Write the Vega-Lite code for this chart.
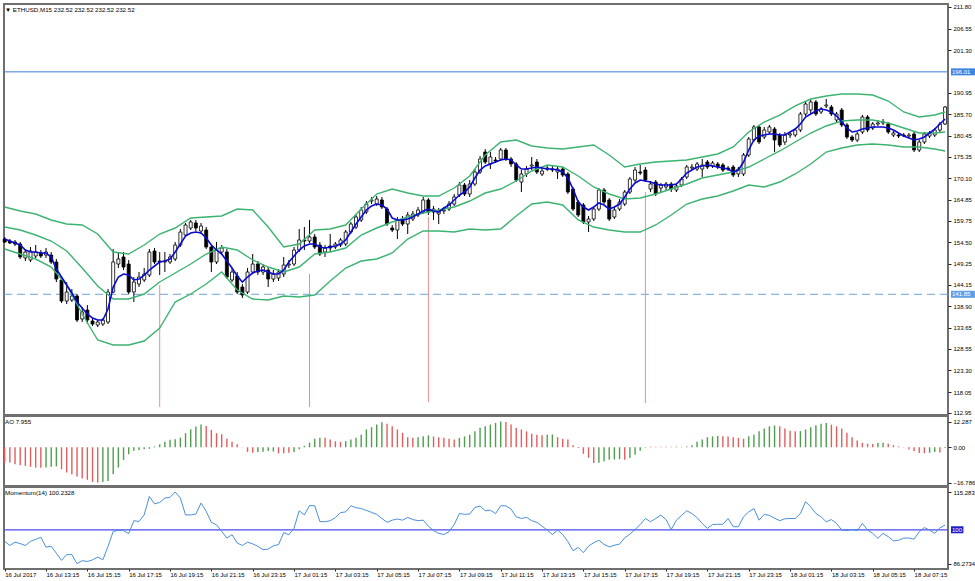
{
  "$schema": "https://vega.github.io/schema/vega-lite/v6.json",
  "background": "white",
  "padding": {"left": 0, "top": 2, "right": 0, "bottom": 0},
  "spacing": 1,
  "bounds": "flush",
  "config": {
    "view": {"stroke": "#6f6f6f", "strokeWidth": 2},
    "font": "Liberation Sans",
    "axis": {"labelFont": "Liberation Sans", "labelFontSize": 6, "labelColor": "#000000", "tickColor": "#222222", "tickSize": 3, "domain": false, "grid": false, "labelPadding": 2, "labelOverlap": false}
  },
  "datasets": {
    "bars": [
      {"t":"2017-07-16 11:15","o":155.31,"h":155.80,"l":154.34,"c":154.58,"ma":155.31,"ao":-7.2,"d":"d","mo":95.31},
      {"t":"2017-07-16 11:30","o":154.82,"h":155.31,"l":154.09,"c":154.34,"ma":154.82,"ao":-7.2,"d":"d","mo":93.64},
      {"t":"2017-07-16 11:45","o":154.58,"h":155.07,"l":153.61,"c":154.09,"ma":154.34,"ao":-8.1,"d":"d","mo":94.98},
      {"t":"2017-07-16 12:00","o":154.09,"h":154.58,"l":150.44,"c":150.93,"ma":153.85,"ao":-8.6,"d":"d","mo":94.42},
      {"t":"2017-07-16 12:15","o":150.68,"h":152.87,"l":149.95,"c":152.14,"ma":152.63,"ao":-8.9,"d":"d","mo":93.64},
      {"t":"2017-07-16 12:30","o":150.20,"h":153.36,"l":149.71,"c":152.39,"ma":152.14,"ao":-9.3,"d":"d","mo":95.31},
      {"t":"2017-07-16 12:45","o":151.17,"h":153.85,"l":150.68,"c":152.14,"ma":152.14,"ao":-9.7,"d":"d","mo":96.10},
      {"t":"2017-07-16 13:00","o":151.90,"h":152.63,"l":150.68,"c":151.17,"ma":151.90,"ao":-9.8,"d":"d","mo":96.99},
      {"t":"2017-07-16 13:15","o":151.41,"h":153.12,"l":150.68,"c":152.14,"ma":151.90,"ao":-9.6,"d":"u","mo":92.97},
      {"t":"2017-07-16 13:30","o":151.41,"h":152.14,"l":149.22,"c":149.71,"ma":150.93,"ao":-9.3,"d":"u","mo":93.31},
      {"t":"2017-07-16 13:45","o":149.71,"h":150.44,"l":144.84,"c":145.57,"ma":148.00,"ao":-9.1,"d":"u","mo":90.52},
      {"t":"2017-07-16 14:00","o":145.33,"h":145.81,"l":139.73,"c":140.21,"ma":146.06,"ao":-10.5,"d":"d","mo":87.62},
      {"t":"2017-07-16 14:15","o":140.21,"h":144.84,"l":139.48,"c":142.40,"ma":144.11,"ao":-12.0,"d":"d","mo":89.96},
      {"t":"2017-07-16 14:30","o":140.46,"h":143.13,"l":139.97,"c":141.43,"ma":142.16,"ao":-12.8,"d":"d","mo":89.96},
      {"t":"2017-07-16 14:45","o":141.43,"h":141.92,"l":135.10,"c":135.59,"ma":139.97,"ao":-13.9,"d":"d","mo":86.2734},
      {"t":"2017-07-16 15:00","o":135.83,"h":138.75,"l":135.10,"c":137.53,"ma":138.51,"ao":-14.9,"d":"d","mo":87.51},
      {"t":"2017-07-16 15:15","o":138.02,"h":139.24,"l":134.61,"c":135.59,"ma":137.05,"ao":-15.5,"d":"d","mo":87.17},
      {"t":"2017-07-16 15:30","o":135.34,"h":136.07,"l":134.13,"c":134.61,"ma":136.07,"ao":-16.5,"d":"d","mo":87.84},
      {"t":"2017-07-16 15:45","o":134.37,"h":135.59,"l":133.88,"c":135.10,"ma":135.59,"ao":-16.786,"d":"d","mo":88.96},
      {"t":"2017-07-16 16:00","o":134.61,"h":136.07,"l":134.13,"c":135.59,"ma":135.59,"ao":-16.6,"d":"u","mo":87.84},
      {"t":"2017-07-16 16:15","o":135.10,"h":143.13,"l":134.61,"c":142.40,"ma":138.26,"ao":-16.1,"d":"u","mo":93.31},
      {"t":"2017-07-16 16:30","o":142.40,"h":152.87,"l":142.16,"c":149.71,"ma":143.62,"ao":-12.8,"d":"u","mo":99.33},
      {"t":"2017-07-16 16:45","o":149.22,"h":152.14,"l":148.25,"c":150.44,"ma":146.06,"ao":-9.7,"d":"u","mo":99.78},
      {"t":"2017-07-16 17:00","o":150.93,"h":152.14,"l":147.76,"c":148.49,"ma":146.79,"ao":-6.0,"d":"u","mo":99.67},
      {"t":"2017-07-16 17:15","o":149.22,"h":150.20,"l":141.92,"c":142.40,"ma":146.54,"ao":-3.3,"d":"u","mo":98.44},
      {"t":"2017-07-16 17:30","o":142.40,"h":146.06,"l":139.97,"c":144.84,"ma":145.33,"ao":-1.7,"d":"u","mo":103.68},
      {"t":"2017-07-16 17:45","o":144.35,"h":147.27,"l":143.62,"c":146.06,"ma":145.57,"ao":-1.3,"d":"u","mo":103.35},
      {"t":"2017-07-16 18:00","o":145.33,"h":148.25,"l":144.84,"c":146.79,"ma":146.54,"ao":-0.9,"d":"u","mo":106.02},
      {"t":"2017-07-16 18:15","o":146.54,"h":152.87,"l":146.06,"c":152.14,"ma":147.76,"ao":-0.7,"d":"u","mo":113.50},
      {"t":"2017-07-16 18:30","o":152.39,"h":153.12,"l":149.22,"c":149.71,"ma":148.74,"ao":0.4,"d":"u","mo":110.49},
      {"t":"2017-07-16 18:45","o":149.95,"h":152.14,"l":146.54,"c":149.71,"ma":149.71,"ao":1.4,"d":"u","mo":111.04},
      {"t":"2017-07-16 19:00","o":149.71,"h":152.14,"l":147.27,"c":149.95,"ma":149.95,"ao":2.6,"d":"u","mo":112.83},
      {"t":"2017-07-16 19:15","o":149.71,"h":151.66,"l":149.22,"c":150.93,"ma":150.44,"ao":3.6,"d":"u","mo":113.16},
      {"t":"2017-07-16 19:30","o":150.44,"h":154.58,"l":149.95,"c":153.85,"ma":152.14,"ao":3.8,"d":"u","mo":115.2833},
      {"t":"2017-07-16 19:45","o":153.85,"h":157.74,"l":153.36,"c":157.01,"ma":154.09,"ao":4.6,"d":"u","mo":112.83},
      {"t":"2017-07-16 20:00","o":156.28,"h":159.21,"l":155.80,"c":158.72,"ma":156.04,"ao":6.7,"d":"u","mo":106.02},
      {"t":"2017-07-16 20:15","o":157.99,"h":159.94,"l":157.50,"c":159.45,"ma":156.77,"ao":8.6,"d":"u","mo":106.02},
      {"t":"2017-07-16 20:30","o":159.21,"h":159.94,"l":157.26,"c":157.99,"ma":157.01,"ao":9.9,"d":"u","mo":106.36},
      {"t":"2017-07-16 20:45","o":157.26,"h":159.21,"l":156.53,"c":158.48,"ma":156.77,"ao":10.9,"d":"u","mo":110.82},
      {"t":"2017-07-16 21:00","o":157.50,"h":158.23,"l":152.87,"c":153.36,"ma":155.55,"ao":10.1,"d":"d","mo":107.47},
      {"t":"2017-07-16 21:15","o":153.36,"h":153.85,"l":147.27,"c":149.71,"ma":153.85,"ao":8.3,"d":"d","mo":103.01},
      {"t":"2017-07-16 21:30","o":149.71,"h":154.58,"l":149.22,"c":152.63,"ma":152.63,"ao":6.7,"d":"d","mo":102.01},
      {"t":"2017-07-16 21:45","o":152.14,"h":153.85,"l":151.41,"c":153.12,"ma":151.66,"ao":6.2,"d":"d","mo":99.33},
      {"t":"2017-07-16 22:00","o":152.14,"h":152.87,"l":145.57,"c":146.06,"ma":149.95,"ao":4.1,"d":"d","mo":96.65},
      {"t":"2017-07-16 22:15","o":145.33,"h":148.25,"l":144.84,"c":147.27,"ma":148.25,"ao":2.6,"d":"d","mo":97.99},
      {"t":"2017-07-16 22:30","o":146.30,"h":147.27,"l":141.92,"c":142.40,"ma":146.30,"ao":1.4,"d":"d","mo":94.65},
      {"t":"2017-07-16 22:45","o":143.62,"h":144.35,"l":140.94,"c":141.67,"ma":144.84,"ao":0.1,"d":"d","mo":93.64},
      {"t":"2017-07-16 23:00","o":142.40,"h":148.25,"l":141.92,"c":147.27,"ma":146.06,"ao":-2.2,"d":"d","mo":94.98},
      {"t":"2017-07-16 23:15","o":147.27,"h":151.66,"l":146.79,"c":149.22,"ma":147.03,"ao":-2.6,"d":"d","mo":94.31},
      {"t":"2017-07-16 23:30","o":149.22,"h":149.95,"l":146.54,"c":147.27,"ma":147.52,"ao":-2.2,"d":"u","mo":93.31},
      {"t":"2017-07-16 23:45","o":147.27,"h":149.22,"l":146.54,"c":148.49,"ma":147.76,"ao":-2.1,"d":"u","mo":91.97},
      {"t":"2017-07-17 00:00","o":147.76,"h":148.49,"l":143.62,"c":145.57,"ma":147.27,"ao":-1.8,"d":"u","mo":92.19},
      {"t":"2017-07-17 00:15","o":145.57,"h":147.76,"l":144.84,"c":146.79,"ma":146.79,"ao":-2.0,"d":"u","mo":93.53},
      {"t":"2017-07-17 00:30","o":145.81,"h":148.00,"l":145.08,"c":147.27,"ma":146.79,"ao":-2.9,"d":"d","mo":93.98},
      {"t":"2017-07-17 00:45","o":146.79,"h":150.93,"l":146.06,"c":148.98,"ma":147.76,"ao":-2.9,"d":"d","mo":98.88},
      {"t":"2017-07-17 01:00","o":148.98,"h":150.20,"l":148.25,"c":149.22,"ma":149.71,"ao":-2.6,"d":"d","mo":97.99},
      {"t":"2017-07-17 01:15","o":149.22,"h":153.36,"l":148.74,"c":152.63,"ma":151.17,"ao":-2.2,"d":"u","mo":100.67},
      {"t":"2017-07-17 01:30","o":152.63,"h":157.74,"l":152.14,"c":155.07,"ma":152.63,"ao":-0.9,"d":"u","mo":107.70},
      {"t":"2017-07-17 01:45","o":155.07,"h":158.23,"l":152.63,"c":154.82,"ma":153.61,"ao":0.7,"d":"u","mo":106.02},
      {"t":"2017-07-17 02:00","o":154.82,"h":159.94,"l":154.34,"c":155.80,"ma":154.09,"ao":2.2,"d":"u","mo":109.82},
      {"t":"2017-07-17 02:15","o":155.80,"h":156.53,"l":152.87,"c":153.36,"ma":154.09,"ao":4.1,"d":"u","mo":109.71},
      {"t":"2017-07-17 02:30","o":153.85,"h":154.58,"l":151.17,"c":151.66,"ma":153.36,"ao":4.6,"d":"u","mo":103.35},
      {"t":"2017-07-17 02:45","o":152.14,"h":153.85,"l":150.93,"c":153.12,"ma":153.12,"ao":4.5,"d":"d","mo":103.24},
      {"t":"2017-07-17 03:00","o":153.61,"h":156.53,"l":152.14,"c":153.12,"ma":153.36,"ao":3.7,"d":"d","mo":103.68},
      {"t":"2017-07-17 03:15","o":153.36,"h":154.58,"l":152.87,"c":154.09,"ma":153.61,"ao":2.9,"d":"d","mo":104.91},
      {"t":"2017-07-17 03:30","o":153.85,"h":155.55,"l":153.36,"c":155.07,"ma":154.09,"ao":2.6,"d":"d","mo":106.92},
      {"t":"2017-07-17 03:45","o":154.09,"h":157.50,"l":153.61,"c":157.01,"ma":155.07,"ao":2.9,"d":"u","mo":107.25},
      {"t":"2017-07-17 04:00","o":157.01,"h":159.45,"l":156.53,"c":158.96,"ma":157.01,"ao":3.7,"d":"u","mo":109.71},
      {"t":"2017-07-17 04:15","o":158.23,"h":161.15,"l":157.74,"c":160.67,"ma":158.96,"ao":4.5,"d":"u","mo":108.92},
      {"t":"2017-07-17 04:30","o":159.94,"h":163.10,"l":159.45,"c":162.37,"ma":160.67,"ao":6.0,"d":"u","mo":108.59},
      {"t":"2017-07-17 04:45","o":161.88,"h":164.56,"l":161.40,"c":163.83,"ma":162.37,"ao":8.5,"d":"u","mo":107.81},
      {"t":"2017-07-17 05:00","o":164.56,"h":165.54,"l":163.83,"c":164.81,"ma":163.35,"ao":9.6,"d":"u","mo":107.03},
      {"t":"2017-07-17 05:15","o":163.83,"h":165.78,"l":163.35,"c":165.05,"ma":163.83,"ao":10.8,"d":"u","mo":106.25},
      {"t":"2017-07-17 05:30","o":164.81,"h":165.54,"l":162.61,"c":163.10,"ma":163.59,"ao":11.9,"d":"u","mo":104.57},
      {"t":"2017-07-17 05:45","o":162.61,"h":163.10,"l":158.48,"c":158.96,"ma":162.61,"ao":11.2,"d":"d","mo":103.01},
      {"t":"2017-07-17 06:00","o":157.99,"h":158.72,"l":157.01,"c":157.50,"ma":160.42,"ao":10.0,"d":"d","mo":103.90},
      {"t":"2017-07-17 06:15","o":157.50,"h":160.67,"l":155.31,"c":159.94,"ma":159.94,"ao":8.5,"d":"d","mo":104.35},
      {"t":"2017-07-17 06:30","o":160.18,"h":160.91,"l":158.48,"c":158.96,"ma":159.94,"ao":6.9,"d":"d","mo":103.90},
      {"t":"2017-07-17 06:45","o":158.96,"h":161.88,"l":156.53,"c":161.15,"ma":160.18,"ao":4.8,"d":"d","mo":105.02},
      {"t":"2017-07-17 07:00","o":160.18,"h":162.13,"l":159.69,"c":161.40,"ma":160.67,"ao":4.5,"d":"d","mo":104.13},
      {"t":"2017-07-17 07:15","o":161.15,"h":163.10,"l":160.67,"c":162.37,"ma":161.40,"ao":4.8,"d":"u","mo":103.68},
      {"t":"2017-07-17 07:30","o":161.88,"h":165.54,"l":161.40,"c":164.81,"ma":162.13,"ao":5.2,"d":"u","mo":103.90},
      {"t":"2017-07-17 07:45","o":164.81,"h":165.29,"l":161.15,"c":161.88,"ma":162.61,"ao":5.7,"d":"u","mo":101.45},
      {"t":"2017-07-17 08:00","o":161.88,"h":163.35,"l":159.94,"c":162.61,"ma":162.13,"ao":5.1,"d":"d","mo":99.67},
      {"t":"2017-07-17 08:15","o":161.40,"h":162.86,"l":158.96,"c":162.13,"ma":161.88,"ao":4.8,"d":"d","mo":98.55},
      {"t":"2017-07-17 08:30","o":162.13,"h":163.10,"l":161.40,"c":162.37,"ma":162.86,"ao":4.5,"d":"d","mo":98.10},
      {"t":"2017-07-17 08:45","o":162.61,"h":164.56,"l":162.13,"c":163.83,"ma":163.59,"ao":4.1,"d":"d","mo":99.22},
      {"t":"2017-07-17 09:00","o":163.83,"h":166.27,"l":163.35,"c":165.54,"ma":164.81,"ao":3.7,"d":"d","mo":102.12},
      {"t":"2017-07-17 09:15","o":166.02,"h":169.19,"l":165.54,"c":168.46,"ma":166.02,"ao":4.5,"d":"u","mo":106.58},
      {"t":"2017-07-17 09:30","o":168.46,"h":168.95,"l":165.78,"c":166.27,"ma":166.75,"ao":5.2,"d":"u","mo":106.25},
      {"t":"2017-07-17 09:45","o":166.27,"h":169.68,"l":165.54,"c":168.70,"ma":167.97,"ao":6.0,"d":"u","mo":106.36},
      {"t":"2017-07-17 10:00","o":168.70,"h":172.35,"l":168.22,"c":171.62,"ma":170.16,"ao":7.6,"d":"u","mo":109.04},
      {"t":"2017-07-17 10:15","o":171.62,"h":175.52,"l":171.14,"c":174.79,"ma":172.11,"ao":9.3,"d":"u","mo":109.59},
      {"t":"2017-07-17 10:30","o":176.49,"h":177.22,"l":173.57,"c":174.06,"ma":173.09,"ao":10.0,"d":"u","mo":107.70},
      {"t":"2017-07-17 10:45","o":173.57,"h":176.49,"l":172.35,"c":175.28,"ma":173.57,"ao":10.8,"d":"u","mo":107.92},
      {"t":"2017-07-17 11:00","o":174.55,"h":175.28,"l":173.82,"c":174.30,"ma":174.06,"ao":11.6,"d":"u","mo":106.58},
      {"t":"2017-07-17 11:15","o":174.79,"h":177.47,"l":174.30,"c":176.98,"ma":174.55,"ao":12.287,"d":"u","mo":109.71},
      {"t":"2017-07-17 11:30","o":176.98,"h":177.47,"l":174.30,"c":174.79,"ma":174.79,"ao":12.1,"d":"d","mo":109.71},
      {"t":"2017-07-17 11:45","o":174.79,"h":175.28,"l":172.84,"c":173.57,"ma":174.55,"ao":10.8,"d":"d","mo":108.37},
      {"t":"2017-07-17 12:00","o":173.57,"h":174.06,"l":169.19,"c":169.68,"ma":173.33,"ao":9.3,"d":"d","mo":105.24},
      {"t":"2017-07-17 12:15","o":169.19,"h":172.11,"l":166.75,"c":171.14,"ma":172.35,"ao":8.5,"d":"d","mo":104.57},
      {"t":"2017-07-17 12:30","o":171.14,"h":173.09,"l":170.41,"c":172.35,"ma":172.35,"ao":7.6,"d":"d","mo":105.02},
      {"t":"2017-07-17 12:45","o":173.09,"h":175.28,"l":172.11,"c":173.33,"ma":172.60,"ao":6.4,"d":"d","mo":103.68},
      {"t":"2017-07-17 13:00","o":174.06,"h":174.79,"l":171.14,"c":171.62,"ma":172.84,"ao":6.0,"d":"d","mo":103.01},
      {"t":"2017-07-17 13:15","o":171.14,"h":172.60,"l":170.65,"c":171.87,"ma":172.60,"ao":5.7,"d":"d","mo":101.45},
      {"t":"2017-07-17 13:30","o":172.35,"h":173.33,"l":171.87,"c":172.60,"ma":172.35,"ao":6.0,"d":"u","mo":99.89},
      {"t":"2017-07-17 13:45","o":172.35,"h":173.09,"l":171.62,"c":172.11,"ma":172.35,"ao":6.1,"d":"u","mo":98.10},
      {"t":"2017-07-17 14:00","o":171.62,"h":172.84,"l":169.92,"c":172.35,"ma":172.11,"ao":4.8,"d":"d","mo":99.89},
      {"t":"2017-07-17 14:15","o":172.35,"h":172.84,"l":170.41,"c":170.89,"ma":171.62,"ao":4.1,"d":"d","mo":98.10},
      {"t":"2017-07-17 14:30","o":171.14,"h":171.62,"l":166.27,"c":166.75,"ma":170.16,"ao":3.7,"d":"d","mo":95.20},
      {"t":"2017-07-17 14:45","o":167.48,"h":167.97,"l":162.13,"c":162.61,"ma":167.48,"ao":1.0,"d":"d","mo":91.52},
      {"t":"2017-07-17 15:00","o":164.32,"h":164.81,"l":160.67,"c":161.15,"ma":164.32,"ao":-0.3,"d":"d","mo":92.86},
      {"t":"2017-07-17 15:15","o":163.59,"h":164.08,"l":158.96,"c":159.45,"ma":163.10,"ao":-3.1,"d":"d","mo":90.74},
      {"t":"2017-07-17 15:30","o":159.45,"h":160.91,"l":157.01,"c":160.18,"ma":162.37,"ao":-5.0,"d":"d","mo":93.42},
      {"t":"2017-07-17 15:45","o":160.18,"h":163.10,"l":159.69,"c":162.61,"ma":163.10,"ao":-7.5,"d":"d","mo":94.76},
      {"t":"2017-07-17 16:00","o":162.61,"h":167.73,"l":162.13,"c":167.24,"ma":164.08,"ao":-7.4,"d":"u","mo":95.76},
      {"t":"2017-07-17 16:15","o":167.24,"h":167.73,"l":163.83,"c":164.32,"ma":163.59,"ao":-6.7,"d":"u","mo":94.09},
      {"t":"2017-07-17 16:30","o":164.81,"h":165.29,"l":159.69,"c":160.18,"ma":162.61,"ao":-5.9,"d":"u","mo":93.08},
      {"t":"2017-07-17 16:45","o":160.67,"h":163.10,"l":160.18,"c":162.37,"ma":163.10,"ao":-5.8,"d":"u","mo":93.75},
      {"t":"2017-07-17 17:00","o":162.61,"h":165.05,"l":162.13,"c":164.32,"ma":163.83,"ao":-5.7,"d":"u","mo":94.20},
      {"t":"2017-07-17 17:15","o":163.83,"h":167.24,"l":163.35,"c":166.75,"ma":165.54,"ao":-5.9,"d":"d","mo":96.76},
      {"t":"2017-07-17 17:30","o":166.75,"h":170.41,"l":166.27,"c":169.92,"ma":167.48,"ao":-5.1,"d":"u","mo":98.22},
      {"t":"2017-07-17 17:45","o":169.68,"h":172.84,"l":169.19,"c":172.11,"ma":168.95,"ao":-3.6,"d":"u","mo":100.11},
      {"t":"2017-07-17 18:00","o":171.62,"h":173.33,"l":170.89,"c":171.38,"ma":169.68,"ao":-1.6,"d":"u","mo":102.12},
      {"t":"2017-07-17 18:15","o":172.11,"h":172.84,"l":169.19,"c":169.68,"ma":169.43,"ao":-0.2,"d":"u","mo":104.57},
      {"t":"2017-07-17 18:30","o":167.48,"h":169.43,"l":166.75,"c":168.70,"ma":169.19,"ao":0.3,"d":"d","mo":103.24},
      {"t":"2017-07-17 18:45","o":169.19,"h":169.68,"l":165.78,"c":166.27,"ma":168.70,"ao":0.3,"d":"d","mo":104.57},
      {"t":"2017-07-17 19:00","o":167.73,"h":168.95,"l":166.75,"c":168.46,"ma":168.46,"ao":0.2,"d":"d","mo":105.91},
      {"t":"2017-07-17 19:15","o":167.97,"h":169.19,"l":167.24,"c":168.70,"ma":168.46,"ao":0.3,"d":"u","mo":104.13},
      {"t":"2017-07-17 19:30","o":168.70,"h":169.19,"l":166.75,"c":167.48,"ma":168.46,"ao":0.2,"d":"d","mo":100.11},
      {"t":"2017-07-17 19:45","o":167.24,"h":168.95,"l":166.75,"c":168.22,"ma":168.70,"ao":0.3,"d":"u","mo":103.90},
      {"t":"2017-07-17 20:00","o":168.46,"h":170.41,"l":167.97,"c":169.92,"ma":169.92,"ao":0.2,"d":"d","mo":105.80},
      {"t":"2017-07-17 20:15","o":170.41,"h":173.33,"l":169.92,"c":172.84,"ma":171.38,"ao":0.4,"d":"u","mo":107.70},
      {"t":"2017-07-17 20:30","o":172.60,"h":173.57,"l":172.11,"c":172.84,"ma":172.11,"ao":1.0,"d":"u","mo":106.58},
      {"t":"2017-07-17 20:45","o":172.35,"h":174.06,"l":171.87,"c":173.57,"ma":172.84,"ao":2.6,"d":"u","mo":104.91},
      {"t":"2017-07-17 21:00","o":172.35,"h":174.79,"l":170.41,"c":173.33,"ma":173.09,"ao":3.7,"d":"u","mo":102.57},
      {"t":"2017-07-17 21:15","o":174.06,"h":174.55,"l":172.35,"c":172.84,"ma":173.33,"ao":4.8,"d":"u","mo":100.56},
      {"t":"2017-07-17 21:30","o":173.09,"h":174.30,"l":172.60,"c":173.82,"ma":173.09,"ao":5.2,"d":"u","mo":102.12},
      {"t":"2017-07-17 21:45","o":173.57,"h":174.06,"l":172.35,"c":172.84,"ma":172.84,"ao":5.4,"d":"u","mo":102.23},
      {"t":"2017-07-17 22:00","o":173.33,"h":173.82,"l":171.62,"c":172.11,"ma":172.60,"ao":5.2,"d":"d","mo":102.23},
      {"t":"2017-07-17 22:15","o":172.60,"h":173.09,"l":171.87,"c":172.35,"ma":172.35,"ao":5.1,"d":"d","mo":104.57},
      {"t":"2017-07-17 22:30","o":172.84,"h":173.33,"l":170.41,"c":170.89,"ma":171.62,"ao":4.8,"d":"d","mo":101.23},
      {"t":"2017-07-17 22:45","o":171.14,"h":172.84,"l":170.41,"c":172.35,"ma":172.11,"ao":4.5,"d":"d","mo":101.23},
      {"t":"2017-07-17 23:00","o":171.14,"h":176.25,"l":170.65,"c":175.76,"ma":174.06,"ao":4.1,"d":"d","mo":105.24},
      {"t":"2017-07-17 23:15","o":175.76,"h":180.15,"l":175.28,"c":179.66,"ma":176.98,"ao":5.2,"d":"u","mo":107.25},
      {"t":"2017-07-17 23:30","o":179.42,"h":183.07,"l":178.93,"c":182.58,"ma":179.42,"ao":6.0,"d":"u","mo":108.59},
      {"t":"2017-07-17 23:45","o":182.58,"h":183.07,"l":178.44,"c":178.93,"ma":180.39,"ao":7.6,"d":"u","mo":103.90},
      {"t":"2017-07-18 00:00","o":180.15,"h":182.58,"l":179.66,"c":181.85,"ma":180.63,"ao":8.9,"d":"u","mo":106.25},
      {"t":"2017-07-18 00:15","o":181.36,"h":183.07,"l":180.88,"c":182.58,"ma":180.88,"ao":10.0,"d":"u","mo":105.80},
      {"t":"2017-07-18 00:30","o":182.09,"h":182.58,"l":176.49,"c":179.42,"ma":180.88,"ao":10.4,"d":"u","mo":104.69},
      {"t":"2017-07-18 00:45","o":180.63,"h":181.12,"l":177.71,"c":178.20,"ma":180.63,"ao":10.0,"d":"d","mo":103.68},
      {"t":"2017-07-18 01:00","o":178.93,"h":181.36,"l":178.20,"c":180.63,"ma":180.63,"ao":8.9,"d":"d","mo":104.46},
      {"t":"2017-07-18 01:15","o":180.63,"h":181.36,"l":179.90,"c":180.88,"ma":181.36,"ao":7.9,"d":"d","mo":104.57},
      {"t":"2017-07-18 01:30","o":180.63,"h":182.34,"l":180.15,"c":181.85,"ma":182.09,"ao":7.6,"d":"d","mo":104.57},
      {"t":"2017-07-18 01:45","o":181.85,"h":186.24,"l":181.36,"c":185.75,"ma":183.31,"ao":7.7,"d":"u","mo":106.58},
      {"t":"2017-07-18 02:00","o":185.75,"h":188.67,"l":185.26,"c":188.18,"ma":185.02,"ao":8.5,"d":"u","mo":111.38},
      {"t":"2017-07-18 02:15","o":186.72,"h":189.16,"l":185.75,"c":188.67,"ma":185.75,"ao":9.6,"d":"u","mo":109.26},
      {"t":"2017-07-18 02:30","o":188.67,"h":189.16,"l":185.26,"c":185.75,"ma":186.48,"ao":10.5,"d":"u","mo":106.58},
      {"t":"2017-07-18 02:45","o":186.24,"h":187.45,"l":185.75,"c":186.97,"ma":186.97,"ao":11.2,"d":"u","mo":105.24},
      {"t":"2017-07-18 03:00","o":187.70,"h":189.40,"l":187.21,"c":187.94,"ma":186.72,"ao":11.6,"d":"u","mo":103.24},
      {"t":"2017-07-18 03:15","o":187.45,"h":187.94,"l":185.26,"c":185.75,"ma":186.24,"ao":10.8,"d":"d","mo":104.13},
      {"t":"2017-07-18 03:30","o":184.29,"h":186.24,"l":183.80,"c":185.75,"ma":185.26,"ao":10.0,"d":"d","mo":102.57},
      {"t":"2017-07-18 03:45","o":186.72,"h":187.21,"l":182.58,"c":183.07,"ma":183.80,"ao":8.9,"d":"d","mo":99.89},
      {"t":"2017-07-18 04:00","o":183.07,"h":183.56,"l":179.66,"c":180.15,"ma":182.34,"ao":6.9,"d":"d","mo":99.67},
      {"t":"2017-07-18 04:15","o":180.15,"h":180.63,"l":178.93,"c":179.42,"ma":181.36,"ao":4.8,"d":"d","mo":100.11},
      {"t":"2017-07-18 04:30","o":179.42,"h":181.36,"l":178.93,"c":180.88,"ma":181.61,"ao":3.2,"d":"d","mo":99.67},
      {"t":"2017-07-18 04:45","o":181.36,"h":185.50,"l":180.88,"c":185.02,"ma":182.09,"ao":2.1,"d":"d","mo":102.57},
      {"t":"2017-07-18 05:00","o":185.02,"h":185.50,"l":181.36,"c":181.85,"ma":182.34,"ao":1.7,"d":"d","mo":99.89},
      {"t":"2017-07-18 05:15","o":182.34,"h":183.80,"l":181.85,"c":183.31,"ma":182.58,"ao":1.6,"d":"d","mo":98.55},
      {"t":"2017-07-18 05:30","o":183.31,"h":184.29,"l":182.83,"c":183.56,"ma":182.58,"ao":2.1,"d":"u","mo":96.54},
      {"t":"2017-07-18 05:45","o":183.56,"h":184.53,"l":183.07,"c":183.80,"ma":182.58,"ao":2.2,"d":"u","mo":98.55},
      {"t":"2017-07-18 06:00","o":183.31,"h":183.80,"l":180.88,"c":181.36,"ma":182.34,"ao":1.7,"d":"d","mo":97.21},
      {"t":"2017-07-18 06:15","o":180.63,"h":181.61,"l":180.15,"c":181.12,"ma":181.85,"ao":1.0,"d":"d","mo":95.54},
      {"t":"2017-07-18 06:30","o":180.63,"h":181.12,"l":179.90,"c":180.39,"ma":181.12,"ao":0.4,"d":"d","mo":95.76},
      {"t":"2017-07-18 06:45","o":180.63,"h":181.12,"l":180.15,"c":180.39,"ma":180.39,"ao":-0.1,"d":"d","mo":96.65},
      {"t":"2017-07-18 07:00","o":180.39,"h":181.12,"l":179.90,"c":180.63,"ma":179.90,"ao":-1.1,"d":"d","mo":96.65},
      {"t":"2017-07-18 07:15","o":180.88,"h":181.36,"l":176.49,"c":176.98,"ma":179.42,"ao":-1.9,"d":"d","mo":96.21},
      {"t":"2017-07-18 07:30","o":176.98,"h":179.42,"l":176.49,"c":178.93,"ma":179.66,"ao":-2.7,"d":"d","mo":99.22},
      {"t":"2017-07-18 07:45","o":178.93,"h":181.36,"l":178.44,"c":180.88,"ma":180.15,"ao":-2.8,"d":"d","mo":100.89},
      {"t":"2017-07-18 08:00","o":180.39,"h":181.61,"l":179.90,"c":181.12,"ma":181.12,"ao":-2.6,"d":"u","mo":99.89},
      {"t":"2017-07-18 08:15","o":180.63,"h":182.34,"l":180.15,"c":181.85,"ma":182.09,"ao":-2.2,"d":"u","mo":98.55},
      {"t":"2017-07-18 08:30","o":181.85,"h":183.80,"l":181.36,"c":183.31,"ma":183.31,"ao":-2.5,"d":"d","mo":100.78},
      {"t":"2017-07-18 08:45","o":183.31,"h":187.70,"l":183.07,"c":187.45,"ma":184.53,"ao":-0.3,"d":"u","mo":101.90}
    ],
    "bands": [
      {"t":"2017-07-16 11:15","up":163.10,"mid":158.23,"lo":152.87},
      {"t":"2017-07-16 12:00","up":162.13,"mid":157.50,"lo":151.66},
      {"t":"2017-07-16 12:45","up":161.40,"mid":156.28,"lo":150.44},
      {"t":"2017-07-16 13:30","up":159.94,"mid":154.82,"lo":148.49},
      {"t":"2017-07-16 14:15","up":158.96,"mid":152.39,"lo":144.11},
      {"t":"2017-07-16 15:00","up":158.72,"mid":148.25,"lo":137.05},
      {"t":"2017-07-16 15:45","up":156.53,"mid":143.87,"lo":130.72},
      {"t":"2017-07-16 16:30","up":152.14,"mid":140.70,"lo":129.50},
      {"t":"2017-07-16 17:15","up":151.66,"mid":140.70,"lo":129.50},
      {"t":"2017-07-16 18:00","up":153.85,"mid":141.92,"lo":130.47},
      {"t":"2017-07-16 18:45","up":156.53,"mid":144.84,"lo":133.64},
      {"t":"2017-07-16 19:30","up":157.99,"mid":147.03,"lo":139.97},
      {"t":"2017-07-16 20:15","up":160.42,"mid":149.22,"lo":141.92},
      {"t":"2017-07-16 21:00","up":160.67,"mid":151.66,"lo":144.35},
      {"t":"2017-07-16 21:45","up":160.91,"mid":153.36,"lo":147.27},
      {"t":"2017-07-16 22:30","up":162.61,"mid":152.63,"lo":142.89},
      {"t":"2017-07-16 23:15","up":162.37,"mid":150.20,"lo":140.70},
      {"t":"2017-07-17 00:00","up":158.23,"mid":148.49,"lo":140.46},
      {"t":"2017-07-17 00:45","up":153.36,"mid":147.27,"lo":141.43},
      {"t":"2017-07-17 01:30","up":154.09,"mid":148.49,"lo":141.19},
      {"t":"2017-07-17 02:15","up":157.50,"mid":151.66,"lo":141.67},
      {"t":"2017-07-17 03:00","up":157.74,"mid":152.14,"lo":145.08},
      {"t":"2017-07-17 03:45","up":158.72,"mid":153.12,"lo":148.25},
      {"t":"2017-07-17 04:30","up":162.61,"mid":156.28,"lo":149.95},
      {"t":"2017-07-17 05:15","up":166.27,"mid":157.99,"lo":150.44},
      {"t":"2017-07-17 06:00","up":167.48,"mid":159.45,"lo":151.90},
      {"t":"2017-07-17 06:45","up":166.51,"mid":160.67,"lo":155.31},
      {"t":"2017-07-17 07:30","up":165.78,"mid":161.64,"lo":157.26},
      {"t":"2017-07-17 08:15","up":165.78,"mid":162.37,"lo":157.26},
      {"t":"2017-07-17 09:00","up":167.73,"mid":163.10,"lo":157.01},
      {"t":"2017-07-17 09:45","up":170.65,"mid":164.56,"lo":157.74},
      {"t":"2017-07-17 10:30","up":175.76,"mid":166.51,"lo":157.50},
      {"t":"2017-07-17 11:15","up":178.93,"mid":167.48,"lo":157.74},
      {"t":"2017-07-17 12:00","up":179.42,"mid":169.43,"lo":160.91},
      {"t":"2017-07-17 12:45","up":177.95,"mid":171.87,"lo":163.83},
      {"t":"2017-07-17 13:30","up":177.47,"mid":173.33,"lo":164.32},
      {"t":"2017-07-17 14:15","up":177.22,"mid":172.84,"lo":163.59},
      {"t":"2017-07-17 15:00","up":177.71,"mid":170.65,"lo":159.94},
      {"t":"2017-07-17 15:45","up":178.20,"mid":167.97,"lo":158.23},
      {"t":"2017-07-17 16:30","up":175.76,"mid":166.27,"lo":157.50},
      {"t":"2017-07-17 17:15","up":172.84,"mid":165.05,"lo":157.01},
      {"t":"2017-07-17 18:00","up":173.57,"mid":165.29,"lo":157.01},
      {"t":"2017-07-17 18:45","up":174.06,"mid":166.27,"lo":158.72},
      {"t":"2017-07-17 19:30","up":174.30,"mid":167.48,"lo":161.15},
      {"t":"2017-07-17 20:15","up":174.55,"mid":168.70,"lo":163.83},
      {"t":"2017-07-17 21:00","up":175.28,"mid":170.16,"lo":165.05},
      {"t":"2017-07-17 21:45","up":176.01,"mid":170.89,"lo":165.78},
      {"t":"2017-07-17 22:30","up":177.71,"mid":171.62,"lo":167.00},
      {"t":"2017-07-17 23:15","up":181.36,"mid":172.84,"lo":168.46},
      {"t":"2017-07-18 00:00","up":183.80,"mid":174.79,"lo":167.97},
      {"t":"2017-07-18 00:45","up":185.50,"mid":176.74,"lo":169.19},
      {"t":"2017-07-18 01:30","up":187.70,"mid":178.93,"lo":171.14},
      {"t":"2017-07-18 02:15","up":189.40,"mid":181.12,"lo":173.57},
      {"t":"2017-07-18 03:00","up":190.13,"mid":182.83,"lo":176.49},
      {"t":"2017-07-18 03:45","up":190.62,"mid":184.04,"lo":177.47},
      {"t":"2017-07-18 04:30","up":190.62,"mid":184.29,"lo":178.20},
      {"t":"2017-07-18 05:15","up":190.38,"mid":184.29,"lo":178.44},
      {"t":"2017-07-18 06:00","up":188.91,"mid":183.56,"lo":178.20},
      {"t":"2017-07-18 06:45","up":186.24,"mid":182.34,"lo":177.71},
      {"t":"2017-07-18 07:30","up":185.02,"mid":181.12,"lo":177.71},
      {"t":"2017-07-18 08:15","up":185.50,"mid":181.12,"lo":177.22},
      {"t":"2017-07-18 08:45","up":186.24,"mid":181.36,"lo":176.74}
    ],
    "spikes": [
      {"t":"2017-07-16 18:45","top":144.11,"bot":114.40},
      {"t":"2017-07-17 02:00","top":146.79,"bot":114.40},
      {"t":"2017-07-17 07:45","top":160.67,"bot":115.62},
      {"t":"2017-07-17 18:15","top":166.75,"bot":115.38}
    ]
  },
  "vconcat": [
    {
      "width": 944,
      "height": 411,
      "layer": [
        {
          "data": {"values": [{"v": 196.01}]},
          "mark": {"type": "rule", "color": "#3f7fd8", "strokeWidth": 1},
          "encoding": {
            "y": {
              "field": "v", "type": "quantitative", "title": null,
              "scale": {"domain": [112.46, 212.53], "zero": false, "nice": false},
              "axis": {"orient": "right", "title": null, "format": ".2f", "labelOverlap": false, "tickCount": 40, "labelFontSize": 6, "values": [211.8, 206.55, 201.3, 190.95, 185.7, 180.45, 175.35, 170.1, 164.85, 159.75, 154.5, 149.25, 144.15, 138.9, 133.65, 128.55, 123.3, 118.05, 112.95]}
            }
          }
        },
        {
          "data": {"values": [{"v": 141.85}]},
          "mark": {"type": "rule", "color": "#6fa3dc", "strokeWidth": 1, "strokeDash": [8, 5]},
          "encoding": {
            "y": {"field": "v", "type": "quantitative", "title": null, "scale": {"domain": [112.46, 212.53], "zero": false, "nice": false}}
          }
        },
        {
          "data": {"name": "spikes"},
          "mark": {"type": "rule", "color": "#f08a8a", "strokeWidth": 1},
          "encoding": {
            "x": {"field": "t", "type": "temporal", "scale": {"domain": [{"year": 2017, "month": 7, "date": 16, "hours": 11, "minutes": 13}, {"year": 2017, "month": 7, "date": 18, "hours": 8, "minutes": 53, "seconds": 30}], "padding": 0}, "axis": null},
            "y": {"field": "top", "type": "quantitative", "title": null, "scale": {"domain": [112.46, 212.53], "zero": false, "nice": false}},
            "y2": {"field": "bot"}
          }
        },
        {
          "data": {"name": "bars"},
          "mark": {"type": "rule", "color": "#000000", "strokeWidth": 1},
          "encoding": {
            "x": {"field": "t", "type": "temporal", "scale": {"domain": [{"year": 2017, "month": 7, "date": 16, "hours": 11, "minutes": 13}, {"year": 2017, "month": 7, "date": 18, "hours": 8, "minutes": 53, "seconds": 30}], "padding": 0}, "axis": null},
            "y": {"field": "l", "type": "quantitative", "title": null, "scale": {"domain": [112.46, 212.53], "zero": false, "nice": false}},
            "y2": {"field": "h"}
          }
        },
        {
          "data": {"name": "bars"},
          "mark": {"type": "bar", "width": 3, "stroke": "#000000", "strokeWidth": 0.8},
          "encoding": {
            "x": {"field": "t", "type": "temporal", "scale": {"domain": [{"year": 2017, "month": 7, "date": 16, "hours": 11, "minutes": 13}, {"year": 2017, "month": 7, "date": 18, "hours": 8, "minutes": 53, "seconds": 30}], "padding": 0}, "axis": null},
            "y": {"field": "o", "type": "quantitative", "title": null, "scale": {"domain": [112.46, 212.53], "zero": false, "nice": false}},
            "y2": {"field": "c"},
            "fill": {"condition": {"test": "datum.c >= datum.o", "value": "#ffffff"}, "value": "#000000"}
          }
        },
        {
          "data": {"name": "bands"},
          "mark": {"type": "line", "color": "#3cb371", "strokeWidth": 1.4},
          "encoding": {
            "x": {"field": "t", "type": "temporal", "scale": {"domain": [{"year": 2017, "month": 7, "date": 16, "hours": 11, "minutes": 13}, {"year": 2017, "month": 7, "date": 18, "hours": 8, "minutes": 53, "seconds": 30}], "padding": 0}, "axis": null},
            "y": {"field": "up", "type": "quantitative", "title": null, "scale": {"domain": [112.46, 212.53], "zero": false, "nice": false}}
          }
        },
        {
          "data": {"name": "bands"},
          "mark": {"type": "line", "color": "#3cb371", "strokeWidth": 1.4},
          "encoding": {
            "x": {"field": "t", "type": "temporal", "scale": {"domain": [{"year": 2017, "month": 7, "date": 16, "hours": 11, "minutes": 13}, {"year": 2017, "month": 7, "date": 18, "hours": 8, "minutes": 53, "seconds": 30}], "padding": 0}, "axis": null},
            "y": {"field": "mid", "type": "quantitative", "title": null, "scale": {"domain": [112.46, 212.53], "zero": false, "nice": false}}
          }
        },
        {
          "data": {"name": "bands"},
          "mark": {"type": "line", "color": "#3cb371", "strokeWidth": 1.4},
          "encoding": {
            "x": {"field": "t", "type": "temporal", "scale": {"domain": [{"year": 2017, "month": 7, "date": 16, "hours": 11, "minutes": 13}, {"year": 2017, "month": 7, "date": 18, "hours": 8, "minutes": 53, "seconds": 30}], "padding": 0}, "axis": null},
            "y": {"field": "lo", "type": "quantitative", "title": null, "scale": {"domain": [112.46, 212.53], "zero": false, "nice": false}}
          }
        },
        {
          "data": {"name": "bars"},
          "mark": {"type": "line", "color": "#0a0ad2", "strokeWidth": 1.6},
          "encoding": {
            "x": {"field": "t", "type": "temporal", "scale": {"domain": [{"year": 2017, "month": 7, "date": 16, "hours": 11, "minutes": 13}, {"year": 2017, "month": 7, "date": 18, "hours": 8, "minutes": 53, "seconds": 30}], "padding": 0}, "axis": null},
            "y": {"field": "ma", "type": "quantitative", "title": null, "scale": {"domain": [112.46, 212.53], "zero": false, "nice": false}}
          }
        },
        {
          "data": {"values": [{"v": 196.01}]},
          "mark": {"type": "point", "shape": "M0.86,-1H7.7V1H0.86Z", "size": 49, "filled": true, "opacity": 1, "color": "#3d85e0", "strokeWidth": 0},
          "encoding": {
            "x": {"datum": {"year": 2017, "month": 7, "date": 18, "hours": 8, "minutes": 53, "seconds": 30}, "type": "temporal", "scale": {"domain": [{"year": 2017, "month": 7, "date": 16, "hours": 11, "minutes": 13}, {"year": 2017, "month": 7, "date": 18, "hours": 8, "minutes": 53, "seconds": 30}], "padding": 0}, "axis": null},
            "y": {"field": "v", "type": "quantitative", "title": null, "scale": {"domain": [112.46, 212.53], "zero": false, "nice": false}}
          }
        },
        {
          "data": {"values": [{"v": 141.85}]},
          "mark": {"type": "point", "shape": "M0.86,-1H7.7V1H0.86Z", "size": 49, "filled": true, "opacity": 1, "color": "#5f9fe6", "strokeWidth": 0},
          "encoding": {
            "x": {"datum": {"year": 2017, "month": 7, "date": 18, "hours": 8, "minutes": 53, "seconds": 30}, "type": "temporal", "scale": {"domain": [{"year": 2017, "month": 7, "date": 16, "hours": 11, "minutes": 13}, {"year": 2017, "month": 7, "date": 18, "hours": 8, "minutes": 53, "seconds": 30}], "padding": 0}, "axis": null},
            "y": {"field": "v", "type": "quantitative", "title": null, "scale": {"domain": [112.46, 212.53], "zero": false, "nice": false}}
          }
        },
        {
          "data": {"values": [{"v": 196.01}, {"v": 141.85}]},
          "mark": {"type": "text", "align": "left", "baseline": "middle", "dx": 4, "fontSize": 6, "color": "#ffffff"},
          "encoding": {
            "x": {"datum": {"year": 2017, "month": 7, "date": 18, "hours": 8, "minutes": 53, "seconds": 30}, "type": "temporal", "scale": {"domain": [{"year": 2017, "month": 7, "date": 16, "hours": 11, "minutes": 13}, {"year": 2017, "month": 7, "date": 18, "hours": 8, "minutes": 53, "seconds": 30}], "padding": 0}, "axis": null},
            "y": {"field": "v", "type": "quantitative", "title": null, "scale": {"domain": [112.46, 212.53], "zero": false, "nice": false}},
            "text": {"field": "v", "type": "quantitative", "format": ".2f"}
          }
        },
        {
          "data": {"values": [{"s": "▼ ETHUSD,M15  232.52 232.52 232.52 232.52"}]},
          "mark": {"type": "text", "align": "left", "baseline": "top", "dx": 1, "dy": 3, "fontSize": 6.2, "color": "#000000"},
          "encoding": {
            "x": {"datum": {"year": 2017, "month": 7, "date": 16, "hours": 11, "minutes": 13}, "type": "temporal", "scale": {"domain": [{"year": 2017, "month": 7, "date": 16, "hours": 11, "minutes": 13}, {"year": 2017, "month": 7, "date": 18, "hours": 8, "minutes": 53, "seconds": 30}], "padding": 0}, "axis": null},
            "y": {"datum": 212.53, "type": "quantitative", "title": null, "scale": {"domain": [112.46, 212.53], "zero": false, "nice": false}},
            "text": {"field": "s"}
          }
        }
      ]
    },
    {
      "width": 944,
      "height": 70,
      "layer": [
        {
          "data": {"name": "bars"},
          "mark": {"type": "rule", "strokeWidth": 1.4},
          "encoding": {
            "x": {"field": "t", "type": "temporal", "scale": {"domain": [{"year": 2017, "month": 7, "date": 16, "hours": 11, "minutes": 13}, {"year": 2017, "month": 7, "date": 18, "hours": 8, "minutes": 53, "seconds": 30}], "padding": 0}, "axis": null},
            "y": {
              "field": "ao", "type": "quantitative", "title": null,
              "scale": {"domain": [-18.45, 14.91], "zero": false, "nice": false},
              "axis": {"orient": "right", "title": null, "labelOverlap": false, "tickCount": 10, "labelFontSize": 6, "values": [12.287, 0, -16.786], "labelExpr": "datum.value == 0 ? '0.00' : format(datum.value, '.3f')"}
            },
            "y2": {"datum": 0},
            "color": {"field": "d", "type": "nominal", "scale": {"domain": ["u", "d"], "range": ["#4e9e4e", "#e35d5d"]}, "legend": null}
          }
        },
        {
          "data": {"values": [{"s": "AO 7.955"}]},
          "mark": {"type": "text", "align": "left", "baseline": "top", "dx": 1, "dy": 3, "fontSize": 6.2, "color": "#000000"},
          "encoding": {
            "x": {"datum": {"year": 2017, "month": 7, "date": 16, "hours": 11, "minutes": 13}, "type": "temporal", "scale": {"domain": [{"year": 2017, "month": 7, "date": 16, "hours": 11, "minutes": 13}, {"year": 2017, "month": 7, "date": 18, "hours": 8, "minutes": 53, "seconds": 30}], "padding": 0}, "axis": null},
            "y": {"datum": 14.91, "type": "quantitative", "title": null, "scale": {"domain": [-18.45, 14.91], "zero": false, "nice": false}},
            "text": {"field": "s"}
          }
        }
      ]
    },
    {
      "width": 944,
      "height": 82,
      "layer": [
        {
          "data": {"values": [{"v": 100}]},
          "mark": {"type": "rule", "color": "#4b4bef", "strokeWidth": 1.3},
          "encoding": {
            "y": {
              "field": "v", "type": "quantitative", "title": null,
              "scale": {"domain": [84.13, 117.31], "zero": false, "nice": false},
              "axis": {"orient": "right", "title": null, "labelOverlap": false, "tickCount": 10, "labelFontSize": 6, "values": [115.2833, 86.2734], "format": ".4f"}
            }
          }
        },
        {
          "data": {"name": "bars"},
          "mark": {"type": "line", "color": "#4a8fdc", "strokeWidth": 1},
          "encoding": {
            "x": {
              "field": "t", "type": "temporal", "title": null,
              "scale": {"domain": [{"year": 2017, "month": 7, "date": 16, "hours": 11, "minutes": 13}, {"year": 2017, "month": 7, "date": 18, "hours": 8, "minutes": 53, "seconds": 30}], "padding": 0},
              "axis": {
                "orient": "bottom", "title": null, "tickSize": 2, "labelPadding": 0, "labelAlign": "left", "labelBaseline": "top", "labelFlush": false, "labelOverlap": false, "tickCount": 40, "labelFontSize": 6,
                "labelExpr": "timeFormat(datum.value, '%d %H:%M') == '16 11:15' ? '16 Jul 2017' : timeFormat(datum.value, '%d %b %H:%M')",
                "values": [
                  {"year": 2017, "month": 7, "date": 16, "hours": 11, "minutes": 15},
                  {"year": 2017, "month": 7, "date": 16, "hours": 13, "minutes": 15},
                  {"year": 2017, "month": 7, "date": 16, "hours": 15, "minutes": 15},
                  {"year": 2017, "month": 7, "date": 16, "hours": 17, "minutes": 15},
                  {"year": 2017, "month": 7, "date": 16, "hours": 19, "minutes": 15},
                  {"year": 2017, "month": 7, "date": 16, "hours": 21, "minutes": 15},
                  {"year": 2017, "month": 7, "date": 16, "hours": 23, "minutes": 15},
                  {"year": 2017, "month": 7, "date": 17, "hours": 1, "minutes": 15},
                  {"year": 2017, "month": 7, "date": 17, "hours": 3, "minutes": 15},
                  {"year": 2017, "month": 7, "date": 17, "hours": 5, "minutes": 15},
                  {"year": 2017, "month": 7, "date": 17, "hours": 7, "minutes": 15},
                  {"year": 2017, "month": 7, "date": 17, "hours": 9, "minutes": 15},
                  {"year": 2017, "month": 7, "date": 17, "hours": 11, "minutes": 15},
                  {"year": 2017, "month": 7, "date": 17, "hours": 13, "minutes": 15},
                  {"year": 2017, "month": 7, "date": 17, "hours": 15, "minutes": 15},
                  {"year": 2017, "month": 7, "date": 17, "hours": 17, "minutes": 15},
                  {"year": 2017, "month": 7, "date": 17, "hours": 19, "minutes": 15},
                  {"year": 2017, "month": 7, "date": 17, "hours": 21, "minutes": 15},
                  {"year": 2017, "month": 7, "date": 17, "hours": 23, "minutes": 15},
                  {"year": 2017, "month": 7, "date": 18, "hours": 1, "minutes": 15},
                  {"year": 2017, "month": 7, "date": 18, "hours": 3, "minutes": 15},
                  {"year": 2017, "month": 7, "date": 18, "hours": 5, "minutes": 15},
                  {"year": 2017, "month": 7, "date": 18, "hours": 7, "minutes": 15}
                ]
              }
            },
            "y": {"field": "mo", "type": "quantitative", "title": null, "scale": {"domain": [84.13, 117.31], "zero": false, "nice": false}}
          }
        },
        {
          "data": {"values": [{"v": 100}]},
          "mark": {"type": "point", "shape": "M0.86,-1H4.4V1H0.86Z", "size": 49, "filled": true, "opacity": 1, "color": "#1c1cc8", "strokeWidth": 0},
          "encoding": {
            "x": {"datum": {"year": 2017, "month": 7, "date": 18, "hours": 8, "minutes": 53, "seconds": 30}, "type": "temporal", "title": null, "scale": {"domain": [{"year": 2017, "month": 7, "date": 16, "hours": 11, "minutes": 13}, {"year": 2017, "month": 7, "date": 18, "hours": 8, "minutes": 53, "seconds": 30}], "padding": 0}},
            "y": {"field": "v", "type": "quantitative", "title": null, "scale": {"domain": [84.13, 117.31], "zero": false, "nice": false}}
          }
        },
        {
          "data": {"values": [{"v": 100}]},
          "mark": {"type": "text", "align": "left", "baseline": "middle", "dx": 4, "fontSize": 6, "color": "#ffffff"},
          "encoding": {
            "x": {"datum": {"year": 2017, "month": 7, "date": 18, "hours": 8, "minutes": 53, "seconds": 30}, "type": "temporal", "title": null, "scale": {"domain": [{"year": 2017, "month": 7, "date": 16, "hours": 11, "minutes": 13}, {"year": 2017, "month": 7, "date": 18, "hours": 8, "minutes": 53, "seconds": 30}], "padding": 0}},
            "y": {"field": "v", "type": "quantitative", "title": null, "scale": {"domain": [84.13, 117.31], "zero": false, "nice": false}},
            "text": {"field": "v", "type": "quantitative", "format": "d"}
          }
        },
        {
          "data": {"values": [{"s": "Momentum(14) 100.2328"}]},
          "mark": {"type": "text", "align": "left", "baseline": "top", "dx": 1, "dy": 3, "fontSize": 6.2, "color": "#000000"},
          "encoding": {
            "x": {"datum": {"year": 2017, "month": 7, "date": 16, "hours": 11, "minutes": 13}, "type": "temporal", "title": null, "scale": {"domain": [{"year": 2017, "month": 7, "date": 16, "hours": 11, "minutes": 13}, {"year": 2017, "month": 7, "date": 18, "hours": 8, "minutes": 53, "seconds": 30}], "padding": 0}},
            "y": {"datum": 117.31, "type": "quantitative", "title": null, "scale": {"domain": [84.13, 117.31], "zero": false, "nice": false}},
            "text": {"field": "s"}
          }
        }
      ]
    }
  ]
}
